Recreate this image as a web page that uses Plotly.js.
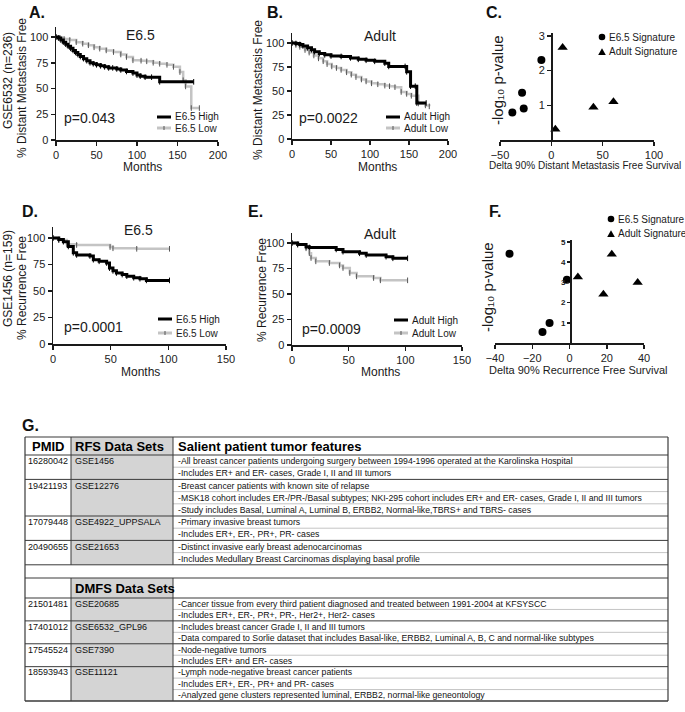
<!DOCTYPE html>
<html><head><meta charset="utf-8">
<script src="https://cdn.plot.ly/plotly-3.0.1.min.js"></script>
<style>html,body{margin:0;padding:0;background:#fff;}#chart{width:685px;height:712px;}</style>
</head><body><div id="chart"></div>
<script>
// ---------- DATA ----------
// Panel A: GSE6532, E6.5 signature, distant metastasis free (%)
const monthsA_high = [0,3,6,9,12,15,18,21,24,27,30,34,38,42,46,50,55,60,65,70,75,80,87,95,100,104,110,118,128,170];
const survA_high   = [100,99,97,95,93,91,89,87,85,83,81,79,77,75,74,73,72,71,70,70,69,68,66.5,65,63,62,61,61,56.5,56.5];
const monthsA_low  = [0,5,10,17,25,33,40,47,54,62,71,80,87,95,105,112,120,128,137,145,153,157,160,167,177];
const survA_low    = [100,99,98,97,95,93.5,92,90,88.7,87,85.4,83,80.6,77.4,77,76.4,75,74,73,71,66,58,52,31,31];
// Panel B: GSE6532, Adult signature
const monthsB_high = [0,5,10,14,20,25,29,35,42,50,63,75,85,95,106,119,124,145,147,152,158,160,172];
const survB_high   = [100,99.5,98.5,97,95,93,91,89,87.7,86.5,86,84.5,83,82,80.9,79,75.6,75.6,70,55,55,37.5,37.5];
const monthsB_low  = [0,5,10,16.7,22,28,34,40,45,51,57,63,70,76,82,89,95,102,110,119,125,132,140,147,153,162,171,176];
const survB_low    = [100,98,96,92.7,90,87,84,81,78,75.6,74,72,69.5,67,64.5,62,60,58,57,55.6,55,54,49,47,45,37,35,34];
// Panel D: GSE1456, E6.5 signature, recurrence free (%)
const monthsD_high = [0,5,9,13.3,17.6,20.5,32,35,40,46.5,49,52,55,60,64,70,75.4,81,101];
const survD_high   = [100,98.5,96.5,92,86,84,83,79.5,78,76.4,71.6,69,67,65.5,64,62.5,61.6,60,60];
const monthsD_low  = [0,5,12,20.5,49.5,52,72.6,101];
const survD_low    = [100,98,94,93.4,91.5,90.3,89.8,89.8];
// Panel E: GSE1456, Adult signature
const monthsE_high = [0,5,12.4,15.3,39,45,59.6,65.5,83,89,102];
const survE_high   = [100,98.5,96.4,95.6,93.7,91.5,89.9,88.2,86.6,85,85];
const monthsE_low  = [0,5,12.4,15.3,16.8,21,33,42,45,51,57,72,78,102];
const survE_low    = [100,98.5,94.8,90,85.3,82,80.4,78,75.5,70.6,67.3,65.7,63.4,63.4];
// Panel C: Delta 90% DMFS vs -log10 p
const deltaC_e65 = [-38,-28.5,-26.9,-9.7];
const logpC_e65  = [0.79,1.36,0.91,2.3];
const deltaC_adult = [11,3.9,41,60.5];
const logpC_adult  = [2.66,0.31,0.94,1.1];
// Panel F: Delta 90% RFS vs -log10 p
const deltaF_e65 = [-32.2,-1.4,-10.7,-14.5];
const logpF_e65  = [4.42,3.13,0.99,0.54];
const deltaF_adult = [4.5,22.7,18.2,36.6];
const logpF_adult  = [3.27,4.39,2.41,3.0];
// Tick labels
const kmTicksY = [0,25,50,75,100];
const kmTicksX200 = [0,50,100,150,200];
const kmTicksX150 = [0,50,100,150];
const ticksC_x = [-50,0,50,100];
const ticksC_y = [1,2,3];
const ticksF_x = [-40,-20,0,20,40];
const ticksF_y = [1,2,3,4,5];
// Table G
const rfsPmids = ['16280042','19421193','17079448','20490655'];
const rfsSets  = ['GSE1456','GSE12276','GSE4922_UPPSALA','GSE21653'];
const rfsFeatures = [
  ['-All breast cancer patients undergoing surgery between 1994-1996 operated at the Karolinska Hospital',
   '-Includes ER+ and ER- cases, Grade I, II and III tumors'],
  ['-Breast cancer patients with known site of relapse',
   '-MSK18 cohort includes ER-/PR-/Basal subtypes; NKI-295 cohort includes ER+ and ER- cases, Grade I, II and III tumors',
   '-Study includes Basal, Luminal A, Luminal B, ERBB2, Normal-like,TBRS+ and TBRS- cases'],
  ['-Primary invasive breast tumors',
   '-Includes ER+, ER-, PR+, PR- cases'],
  ['-Distinct invasive early breast adenocarcinomas',
   '-Includes Medullary Breast Carcinomas displaying basal profile']
];
const dmfsPmids = ['21501481','17401012','17545524','18593943'];
const dmfsSets  = ['GSE20685','GSE6532_GPL96','GSE7390','GSE11121'];
const dmfsFeatures = [
  ['-Cancer tissue from every third patient diagnosed and treated between 1991-2004 at KFSYSCC',
   '-Includes ER+, ER-, PR+, PR-, Her2+, Her2- cases'],
  ['-Includes breast cancer Grade I, II and III tumors',
   '-Data compared to Sorlie dataset that includes Basal-like, ERBB2, Luminal A, B, C and normal-like subtypes'],
  ['-Node-negative tumors',
   '-Includes ER+ and ER- cases'],
  ['-Lymph node-negative breast cancer patients',
   '-Includes ER+, ER-, PR+ and PR- cases',
   '-Analyzed gene clusters represented luminal, ERBB2, normal-like geneontology']
];

// ---------- LAYOUT HELPERS ----------
const W = 685, H = 712;
const FONT = 'Liberation Sans, Arial, Helvetica, sans-serif';
const px = x => x / W;
const py = y => 1 - y / H;
const HIGH = '#000000', LOW = '#c4c4c4', GRAY = '#d4d4d4', DARK = '#3a3a3a';

const annotations = [];
function ann(text, x, y, o) {
  o = o || {};
  annotations.push(Object.assign({
    text: text, x: px(x), y: py(y), xref: 'paper', yref: 'paper', showarrow: false,
    xanchor: 'center', yanchor: 'middle',
    font: {family: FONT, size: o.size || 12, color: o.color || '#1a1a1a', weight: o.bold ? 'bold' : 'normal'}
  }, o.extra || {}));
}
const shapes = [];
function L(x0, y0, x1, y1, c, w) {
  shapes.push({type: 'line', xref: 'paper', yref: 'paper', x0: px(x0), y0: py(y0), x1: px(x1), y1: py(y1),
    line: {color: c, width: w}});
}
function R(x0, y0, x1, y1, fill) {
  shapes.push({type: 'rect', xref: 'paper', yref: 'paper', x0: px(x0), y0: py(y1), x1: px(x1), y1: py(y0),
    fillcolor: fill, line: {width: 0}, layer: 'below'});
}
function circ(cx, cy, r) {
  shapes.push({type: 'circle', xref: 'paper', yref: 'paper', x0: px(cx - r), x1: px(cx + r), y0: py(cy + r), y1: py(cy - r),
    fillcolor: '#000', line: {width: 0}});
}
function tri(cx, cy, r) {
  shapes.push({type: 'path', xref: 'paper', yref: 'paper',
    path: `M ${px(cx - r)},${py(cy + r * 0.8)} L ${px(cx + r)},${py(cy + r * 0.8)} L ${px(cx)},${py(cy - r)} Z`,
    fillcolor: '#000', line: {width: 0}});
}

function axisBase(extra) {
  return Object.assign({
    showgrid: false, zeroline: false, showline: true, linecolor: '#1a1a1a', linewidth: 1.5,
    ticks: 'outside', ticklen: 4, tickwidth: 1.5, tickcolor: '#1a1a1a',
    tickfont: {family: FONT, size: 11, color: '#222'}, fixedrange: true, automargin: false
  }, extra);
}

function km(x, y, xa, ya, name, high) {
  return {type: 'scatter', mode: 'lines+markers', x: x, y: y, xaxis: xa, yaxis: ya, name: name,
    line: {shape: 'hv', color: high ? HIGH : LOW, width: high ? 3 : 2.5},
    marker: {symbol: 'line-ns-open', size: 4, color: high ? HIGH : '#555', line: {width: 1, color: high ? HIGH : '#555'}},
    showlegend: false, hoverinfo: 'skip', cliponaxis: false};
}
function pts(x, y, xa, ya, name, sym) {
  return {type: 'scatter', mode: 'markers', x: x, y: y, xaxis: xa, yaxis: ya, name: name,
    marker: {symbol: sym, size: sym === 'circle' ? 8 : 9, color: '#000'}, showlegend: false, hoverinfo: 'skip', cliponaxis: false};
}

const traces = [
  km(monthsA_low, survA_low, 'x', 'y', 'E6.5 Low', false),
  km(monthsA_high, survA_high, 'x', 'y', 'E6.5 High', true),
  km(monthsB_low, survB_low, 'x2', 'y2', 'Adult Low', false),
  km(monthsB_high, survB_high, 'x2', 'y2', 'Adult High', true),
  pts(deltaC_e65, logpC_e65, 'x3', 'y3', 'E6.5 Signature', 'circle'),
  pts(deltaC_adult, logpC_adult, 'x3', 'y3', 'Adult Signature', 'triangle-up'),
  km(monthsD_low, survD_low, 'x4', 'y4', 'E6.5 Low', false),
  km(monthsD_high, survD_high, 'x4', 'y4', 'E6.5 High', true),
  km(monthsE_low, survE_low, 'x5', 'y5', 'Adult Low', false),
  km(monthsE_high, survE_high, 'x5', 'y5', 'Adult High', true),
  pts(deltaF_e65, logpF_e65, 'x6', 'y6', 'E6.5 Signature', 'circle'),
  pts(deltaF_adult, logpF_adult, 'x6', 'y6', 'Adult Signature', 'triangle-up')
];

// ---------- TEXT: panels ----------
function letter(t, x, y) { ann(t, x, y, {size: 16, bold: true, color: '#111'}); }
letter('A.', 37, 12); letter('B.', 275, 12); letter('C.', 494, 13);
letter('D.', 30, 212); letter('E.', 255, 212); letter('F.', 495, 211);
letter('G.', 30, 425);

function ytitle(t, x, y, size) { ann(t, x, y, {size: size || 12, extra: {textangle: -90}}); }
// A
ann('E6.5', 140, 35, {size: 14});
ytitle('GSE6532 (n=236)', 8, 81);
ytitle('% Distant Metastasis Free', 22, 88);
ann('Months', 142, 167, {size: 12});
ann('p=0.043', 62, 118, {size: 14, extra: {xanchor: 'left'}});
// B
ann('Adult', 380, 36, {size: 14});
ytitle('% Distant Metastasis Free', 258, 90);
ann('Months', 377, 167, {size: 12});
ann('p=0.0022', 297, 118, {size: 14, extra: {xanchor: 'left'}});
// C
ytitle('-log\u2081\u2080 p-value', 497, 80, 15);
ann('Delta 90% Distant Metastasis Free Survival', 585, 166, {size: 10});
// D
ann('E6.5', 138, 230, {size: 14});
ytitle('GSE1456 (n=159)', 8, 279);
ytitle('% Recurrence Free', 22, 288);
ann('Months', 140, 372, {size: 12});
ann('p=0.0001', 62, 327, {size: 14, extra: {xanchor: 'left'}});
// E
ann('Adult', 380, 234, {size: 14});
ytitle('% Recurrence Free', 262, 290);
ann('Months', 380, 372, {size: 12});
ann('p=0.0009', 300, 329, {size: 14, extra: {xanchor: 'left'}});
// F
ytitle('-log\u2081\u2080 p-value', 488, 287, 15);
ann('Delta 90% Recurrence Free Survival', 578, 370, {size: 11});

// ---------- manual legends ----------
function kmLegend(x0, yH, yL, hi, lo) {
  L(x0, yH, x0 + 14, yH, HIGH, 3);
  L(x0, yL, x0 + 14, yL, LOW, 3);
  L(x0 + 7, yL - 2, x0 + 7, yL + 2, '#555', 1);
  ann(hi, x0 + 16, yH, {size: 10, extra: {xanchor: 'left'}});
  ann(lo, x0 + 16, yL, {size: 10, extra: {xanchor: 'left'}});
}
kmLegend(157, 117, 128, 'E6.5 High', 'E6.5 Low');
kmLegend(386, 117, 128, 'Adult High', 'Adult Low');
kmLegend(158, 319, 333, 'E6.5 High', 'E6.5 Low');
kmLegend(394, 320, 333, 'Adult High', 'Adult Low');
function sigLegend(cx, y1, y2) {
  circ(cx, y1, 3.3); tri(cx, y2, 3.8);
  ann('E6.5 Signature', cx + 5, y1, {size: 10, extra: {xanchor: 'left'}});
  ann('Adult Signature', cx + 5, y2, {size: 10, extra: {xanchor: 'left'}});
}
sigLegend(602, 37, 52);
sigLegend(611, 219, 234);

// ---------- TABLE G ----------
const tblL = 25, c1 = 71, c2 = 173, tblR = 668;
const tblTop = 437, hdrBot = 455, rfsRowH = 12.2;
const emptyTop = hdrBot + 9 * rfsRowH, emptyBot = 578, dmfsHdrBot = 598, tblBot = 701;
const dmfsRowH = (tblBot - dmfsHdrBot) / 9;
const TF = 8.7;

R(c1, tblTop, c2, emptyTop, GRAY);
R(c1, emptyBot, c2, tblBot, GRAY);
ann('PMID', (tblL + c1) / 2, (tblTop + hdrBot) / 2, {size: 13, bold: true, color: '#000'});
ann('RFS Data Sets', c1 + 2, (tblTop + hdrBot) / 2, {size: 13, bold: true, color: '#000', extra: {xanchor: 'left'}});
ann('Salient patient tumor features', c2 + 3, (tblTop + hdrBot) / 2, {size: 13, bold: true, color: '#000', extra: {xanchor: 'left'}});
ann('DMFS Data Sets', c1 + 2, (emptyBot + dmfsHdrBot) / 2, {size: 13, bold: true, color: '#000', extra: {xanchor: 'left'}});

function section(pmids, sets, feats, yStart, rowH) {
  let y = yStart;
  pmids.forEach((p, i) => {
    const n = feats[i].length;
    ann(p, tblL + 1, y + rowH / 2, {size: 9, color: '#111', extra: {xanchor: 'left'}});
    ann(sets[i], c1 + 2, y + rowH / 2, {size: 9, color: '#111', extra: {xanchor: 'left'}});
    feats[i].forEach((f, j) => {
      ann(f, c2 + 3, y + (j + 0.5) * rowH, {size: TF, color: '#111', extra: {xanchor: 'left'}});
      if (j > 0) L(c2, y + j * rowH, tblR, y + j * rowH, '#b5b5b5', 0.8);
    });
    y += n * rowH;
    L(tblL, y, tblR, y, DARK, 1);
  });
  return y;
}
section(rfsPmids, rfsSets, rfsFeatures, hdrBot, rfsRowH);
section(dmfsPmids, dmfsSets, dmfsFeatures, dmfsHdrBot, dmfsRowH);
// borders
L(tblL, tblTop, tblR, tblTop, DARK, 1.2);
L(tblL, hdrBot, tblR, hdrBot, DARK, 1.2);
L(tblL, emptyBot, tblR, emptyBot, DARK, 1);
L(tblL, dmfsHdrBot, tblR, dmfsHdrBot, DARK, 1.2);
L(tblL, tblBot, tblR, tblBot, DARK, 1.2);
L(tblL, tblTop, tblL, tblBot, DARK, 1.2);
L(tblR, tblTop, tblR, tblBot, DARK, 1.2);
L(c1, tblTop, c1, emptyTop, DARK, 1);
L(c2, tblTop, c2, emptyTop, DARK, 1);
L(c1, emptyBot, c1, tblBot, DARK, 1);
L(c2, emptyBot, c2, tblBot, DARK, 1);

// ---------- AXES ----------
const layout = {
  width: W, height: H, margin: {l: 0, r: 0, t: 0, b: 0},
  paper_bgcolor: '#fff', plot_bgcolor: 'rgba(0,0,0,0)', showlegend: false,
  font: {family: FONT, color: '#222'},
  xaxis:  axisBase({domain: [px(56), px(218)], range: [0, 200], tickvals: kmTicksX200, anchor: 'y'}),
  yaxis:  axisBase({domain: [py(140), py(26.7)], range: [0, 110], tickvals: kmTicksY, anchor: 'x'}),
  xaxis2: axisBase({domain: [px(292), px(448)], range: [0, 200], tickvals: kmTicksX200, anchor: 'y2'}),
  yaxis2: axisBase({domain: [py(139), py(33.4)], range: [0, 110], tickvals: kmTicksY, anchor: 'x2'}),
  xaxis3: axisBase({domain: [px(500), px(654)], range: [-50, 100], tickvals: ticksC_x, anchor: 'y3'}),
  yaxis3: axisBase({domain: [py(140), py(33)], range: [0, 3.08], tickvals: ticksC_y, anchor: 'free', position: px(551)}),
  xaxis4: axisBase({domain: [px(53), px(226)], range: [0, 150], tickvals: kmTicksX150, anchor: 'y4'}),
  yaxis4: axisBase({domain: [py(344), py(227.4)], range: [0, 110], tickvals: kmTicksY, anchor: 'x4'}),
  xaxis5: axisBase({domain: [px(292), px(462)], range: [0, 150], tickvals: kmTicksX150, anchor: 'y5'}),
  yaxis5: axisBase({domain: [py(345), py(232.8)], range: [0, 110], tickvals: kmTicksY, anchor: 'x5'}),
  xaxis6: axisBase({domain: [px(495), px(644)], range: [-40, 40], tickvals: ticksF_x, anchor: 'y6'}),
  yaxis6: axisBase({domain: [py(343), py(240)], range: [0, 5.1], tickvals: ticksF_y, anchor: 'free', position: px(570),
    ticklen: 3, tickfont: {family: FONT, size: 8, color: '#222', weight: 'bold'}}),
  annotations: annotations,
  shapes: shapes
};

Plotly.newPlot('chart', traces, layout, {displayModeBar: false, staticPlot: true});
</script></body></html>
